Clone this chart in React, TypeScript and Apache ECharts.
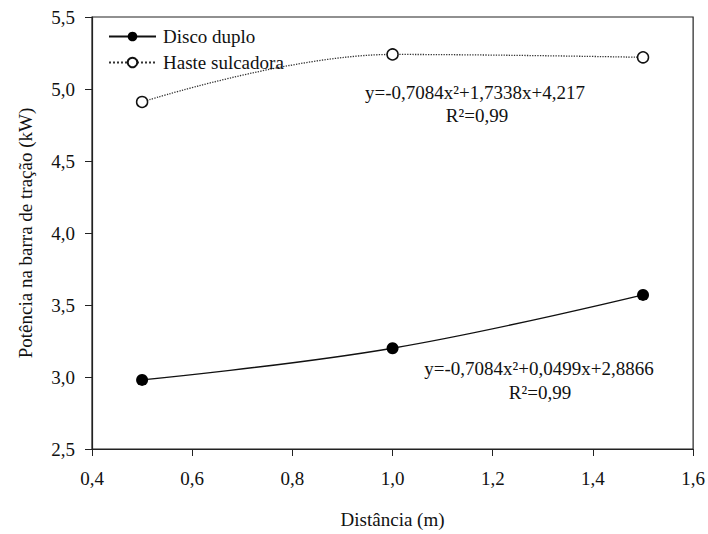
import React, { useEffect, useRef } from "react";
import * as echarts from "echarts";

// Distância (m)
const distances = [0.5, 1.0, 1.5];
// Potência na barra de tração (kW)
const discoDuplo = [2.98, 3.2, 3.57];
const hasteSulcadora = [4.91, 5.24, 5.22];

const xTicks = { min: 0.4, max: 1.6, interval: 0.2 };
const yTicks = { min: 2.5, max: 5.5, interval: 0.5 };

const eqHaste = ["y=-0,7084x²+1,7338x+4,217", "R²=0,99"];
const eqDisco = ["y=-0,7084x²+0,0499x+2,8866", "R²=0,99"];

const FONT = "Liberation Serif";
const comma = (v: number) => v.toFixed(1).replace(".", ",");

export default function App() {
  const ref = useRef<HTMLDivElement>(null);

  useEffect(() => {
    document.body.style.margin = "0";
    if (!ref.current) return;
    const chart = echarts.init(ref.current, undefined, { renderer: "svg" });

    const eqStyle = { fontFamily: FONT, fontSize: 19, fill: "#111", textAlign: "center", textVerticalAlign: "middle" };

    chart.setOption({
      animation: false,
      backgroundColor: "#fff",
      grid: {
        left: 92,
        top: 17,
        right: 12,
        bottom: 81,
        show: true,
        borderColor: "#222",
        borderWidth: 1.2,
      },
      legend: {
        orient: "vertical",
        left: 103,
        top: 22,
        itemWidth: 47,
        itemHeight: 12,
        itemGap: 7,
        textStyle: { fontFamily: FONT, fontSize: 19, color: "#111", padding: [0, 0, 0, 2] },
        data: ["Disco duplo", "Haste sulcadora"],
      },
      xAxis: {
        type: "value",
        ...xTicks,
        name: "Distância (m)",
        nameLocation: "middle",
        nameGap: 61,
        nameTextStyle: { fontFamily: FONT, fontSize: 19, color: "#111" },
        axisLine: { lineStyle: { color: "#222", width: 1.2 } },
        axisTick: { show: true, inside: false, length: 7, lineStyle: { color: "#222" } },
        axisLabel: { fontFamily: FONT, fontSize: 19, color: "#111", margin: 20, formatter: comma },
        splitLine: { show: false },
      },
      yAxis: {
        type: "value",
        ...yTicks,
        name: "Potência na barra de tração (kW)",
        nameLocation: "middle",
        nameGap: 57,
        nameTextStyle: { fontFamily: FONT, fontSize: 19, color: "#111" },
        axisLine: { show: true, lineStyle: { color: "#222", width: 1.2 } },
        axisTick: { show: true, inside: false, length: 7, lineStyle: { color: "#222" } },
        axisLabel: { fontFamily: FONT, fontSize: 19, color: "#111", margin: 17, formatter: comma },
        splitLine: { show: false },
      },
      series: [
        {
          name: "Disco duplo",
          type: "line",
          smooth: 0.4,
          data: distances.map((x, i) => [x, discoDuplo[i]]),
          symbol: "circle",
          symbolSize: 12,
          itemStyle: { color: "#000", borderColor: "#000", borderWidth: 0 },
          lineStyle: { color: "#111", width: 1.4, type: "solid" },
        },
        {
          name: "Haste sulcadora",
          type: "line",
          smooth: 0.4,
          data: distances.map((x, i) => [x, hasteSulcadora[i]]),
          symbol: "circle",
          symbolSize: 11,
          itemStyle: { color: "#fff", borderColor: "#111", borderWidth: 1.5 },
          lineStyle: { color: "#333", width: 1.3, type: "dotted" },
        },
      ],
      graphic: [
        { type: "text", x: 475, y: 92, style: { text: eqHaste[0], ...eqStyle } },
        { type: "text", x: 477, y: 115, style: { text: eqHaste[1], ...eqStyle } },
        { type: "text", x: 539, y: 368, style: { text: eqDisco[0], ...eqStyle } },
        { type: "text", x: 540, y: 392, style: { text: eqDisco[1], ...eqStyle } },
      ],
    });

    return () => chart.dispose();
  }, []);

  return <div ref={ref} style={{ width: 708, height: 534 }} />;
}
